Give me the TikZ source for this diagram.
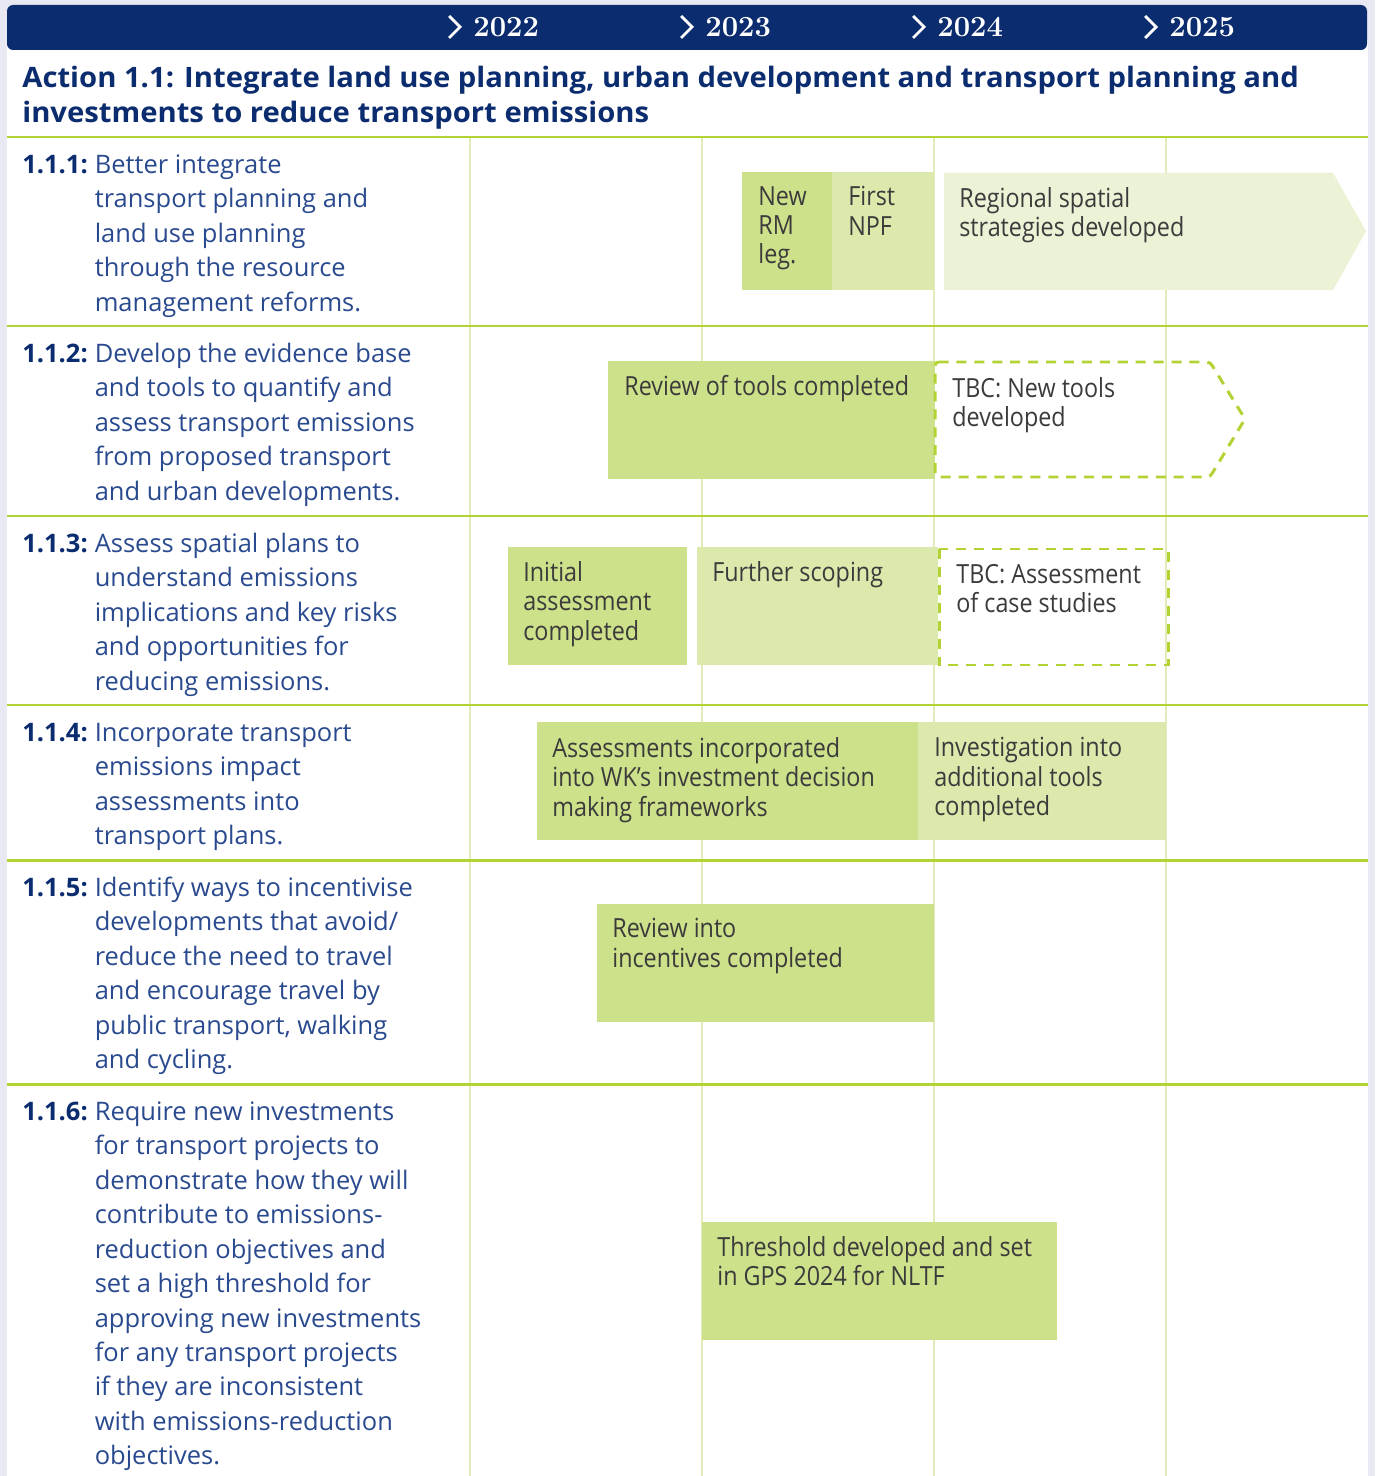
\documentclass[tikz,border=0pt]{standalone}
\usepackage{fontspec}
\usepackage{tikz}
\usetikzlibrary{positioning}

\newfontfamily\opensans{Open Sans}
\newfontfamily\opensanswide{Open Sans}[FakeStretch=1.04]
\newfontfamily\opensanscond{Open Sans}[FakeStretch=0.885]

\definecolor{navy}{HTML}{0B2D6F}
\definecolor{pagebg}{HTML}{E9E9F3}
\definecolor{rulegreen}{HTML}{B3D335}
\definecolor{gridgreen}{HTML}{E1ECB8}
\definecolor{barA}{HTML}{CDE08A}
\definecolor{barB}{HTML}{DCE9AD}
\definecolor{barC}{HTML}{EBF2D6}
\definecolor{goalblue}{HTML}{2A4A8F}
\definecolor{bartxt}{HTML}{3B3B3B}

\tikzset{
  yearlbl/.style={anchor=west, inner sep=0pt, text=white, font=\fontsize{16.6}{16.6}\selectfont\bfseries},
  actiontitle/.style={anchor=north west, inner sep=0pt, align=left, text=navy, font=\opensanswide\bfseries\fontsize{16}{19.8}\selectfont},
  goaltext/.style={anchor=north west, inner sep=0pt, text=goalblue, font=\opensans\fontsize{14.5}{19.6}\selectfont},
  bartext/.style={anchor=north west, inner sep=0pt, align=left, text=bartxt, font=\opensanscond\fontsize{15}{16.7}\selectfont},
  sepline/.style={rulegreen, line width=1.7pt},
  yearline/.style={gridgreen, line width=1.1pt},
  tbc/.style={rulegreen, line width=1.7pt, dash pattern=on 5.7pt off 4.5pt},
}

\begin{document}
\begin{tikzpicture}[x=0.02cm, y=-0.02cm]
    \useasboundingbox (0,0) rectangle (1375,1476);
    \fill[pagebg] (0,0) rectangle (1375,1476);
    \fill[white] (7,40) rectangle (1368,1476);

    % Year columns
    \foreach \i in {0,...,3} {
        \draw[yearline] (470+\i*232,137) -- (470+\i*232,1476);
    }

    % Row separators
    \foreach \sy in {137,326,516,705,860,1084} {
        \draw[sepline] (7,\sy) -- (1368,\sy);
    }

    % Header with years
    \fill[navy, rounded corners=3.5pt] (7,5) rectangle (1367,50);
    \foreach \yr [count=\i from 0] in {2022,2023,2024,2025} {
        \draw[white, line width=1.6pt] (449+\i*232,16) -- (460+\i*232,27) -- (449+\i*232,38);
        \node[yearlbl] (y\yr) at (473+\i*232,27.5) {\yr};
    }

    % Action title
    \node[actiontitle] (action) at (22,66) {Action 1.1: Integrate land use planning, urban development and transport planning and\\
        investments to reduce transport emissions};

    % Goals
    \node[goaltext] (g111) at (22,149) {
        \begin{tabular}{@{}l@{\hspace{4pt}}l@{}}
            \color{navy}\bfseries 1.1.1: & Better integrate\\
            & transport planning and\\
            & land use planning\\
            & through the resource\\
            & management reforms.
        \end{tabular}
    };

    \node[goaltext] (g112) at (22,338) {
        \begin{tabular}{@{}l@{\hspace{4pt}}l@{}}
            \color{navy}\bfseries 1.1.2: & Develop the evidence base\\
            & and tools to quantify and\\
            & assess transport emissions\\
            & from proposed transport\\
            & and urban developments.
        \end{tabular}
    };

    \node[goaltext] (g113) at (22,528) {
        \begin{tabular}{@{}l@{\hspace{4pt}}l@{}}
            \color{navy}\bfseries 1.1.3: & Assess spatial plans to\\
            & understand emissions\\
            & implications and key risks\\
            & and opportunities for\\
            & reducing emissions.
        \end{tabular}
    };

    \node[goaltext] (g114) at (22,717) {
        \begin{tabular}{@{}l@{\hspace{4pt}}l@{}}
            \color{navy}\bfseries 1.1.4: & Incorporate transport\\
            & emissions impact\\
            & assessments into\\
            & transport plans.
        \end{tabular}
    };

    \node[goaltext] (g115) at (22,872) {
        \begin{tabular}{@{}l@{\hspace{4pt}}l@{}}
            \color{navy}\bfseries 1.1.5: & Identify ways to incentivise\\
            & developments that avoid/\\
            & reduce the need to travel\\
            & and encourage travel by\\
            & public transport, walking\\
            & and cycling.
        \end{tabular}
    };

    \node[goaltext] (g116) at (22,1096) {
        \begin{tabular}{@{}l@{\hspace{4pt}}l@{}}
            \color{navy}\bfseries 1.1.6: & Require new investments\\
            & for transport projects to\\
            & demonstrate how they will\\
            & contribute to emissions-\\
            & reduction objectives and\\
            & set a high threshold for\\
            & approving new investments\\
            & for any transport projects\\
            & if they are inconsistent\\
            & with emissions-reduction\\
            & objectives.
        \end{tabular}
    };

    % 1.1.1 bars
    \fill[barA] (742,172) rectangle (832,290);
    \fill[barB] (832,172) rectangle (934,290);
    \fill[barC] (944,173) -- (1333,173) -- (1366,231) -- (1333,290) -- (944,290) -- cycle;
    \node[bartext] (rmleg) at (758,186) {New\\RM\\leg.};
    \node[bartext] (npf) at (848,186) {First\\NPF};
    \node[bartext] (spatial) at (959,187) {Regional spatial\\strategies developed};

    % 1.1.2 bars
    \fill[barA] (608,361) rectangle (935,479);
    \draw[tbc, rounded corners=2pt] (935,362) -- (1210,362) -- (1245,419) -- (1210,477) -- (935,477) -- cycle;
    \node[bartext] (toolreview) at (624,375) {Review of tools completed};
    \node[bartext] (newtools) at (952,377) {TBC: New tools\\developed};

    % 1.1.3 bars
    \fill[barA] (508,547) rectangle (687,665);
    \fill[barB] (697,547) rectangle (938,665);
    \draw[tbc] (939,549) rectangle (1168,665);
    \node[bartext] (initial) at (523,561) {Initial\\assessment\\completed};
    \node[bartext] (scoping) at (712,561) {Further scoping};
    \node[bartext] (cases) at (956,564) {TBC: Assessment\\of case studies};

    % 1.1.4 bars
    \fill[barA] (537,722) rectangle (918,840);
    \fill[barB] (918,722) rectangle (1166,840);
    \node[bartext] (wkframes) at (552,737) {Assessments incorporated\\into WK’s investment decision\\making frameworks};
    \node[bartext] (addtools) at (934,737) {Investigation into\\additional tools\\completed};

    % 1.1.5 bar
    \fill[barA] (597,904) rectangle (934,1022);
    \node[bartext] (incentives) at (612,918) {Review into\\incentives completed};

    % 1.1.6 bar
    \fill[barA] (702,1222) rectangle (1057,1340);
    \node[bartext] (threshold) at (717,1236) {Threshold developed and set\\in GPS 2024 for NLTF};
\end{tikzpicture}
\end{document}
